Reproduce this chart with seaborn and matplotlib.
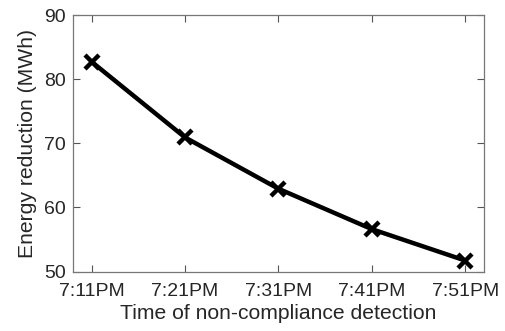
import matplotlib
matplotlib.use("Agg")
import matplotlib.pyplot as plt
import seaborn as sns
import pandas as pd

detection_times = ["7:11PM", "7:21PM", "7:31PM", "7:41PM", "7:51PM"]
energy_reduction = [82.7, 70.9, 62.9, 56.6, 51.7]

sns.set_theme(style="white")
plt.rcParams["font.family"] = ["Liberation Sans", "DejaVu Sans"]

df = pd.DataFrame({"pos": range(len(detection_times)), "energy": energy_reduction})

fig = plt.figure(figsize=(5.06, 3.31), dpi=100)
ax = fig.add_axes([73 / 506, 1 - 271.5 / 331, (484 - 73) / 506, (271.5 - 15) / 331])

sns.lineplot(data=df, x="pos", y="energy", ax=ax, color="black", linewidth=3.2,
             marker="x", markersize=10, markeredgewidth=3.2, markeredgecolor="black")

ax.set_xlim(-0.2, 4.2)
ax.set_ylim(50, 90)
ax.set_xticks(range(len(detection_times)))
ax.set_xticklabels(detection_times)
ax.set_yticks([50, 60, 70, 80, 90])

ax.set_xlabel("Time of non-compliance detection", fontsize=15.2, color="#262626", labelpad=3)
ax.set_ylabel("Energy reduction (MWh)", fontsize=15.2, color="#262626", labelpad=5)

ax.tick_params(axis="both", direction="in", length=5, width=0.8, color="#555555",
               labelsize=14, labelcolor="#262626", top=True, right=True,
               bottom=True, left=True)
ax.tick_params(axis="x", pad=8)
ax.tick_params(axis="y", pad=5)
for sp in ax.spines.values():
    sp.set_visible(True)
    sp.set_color("#777777")
    sp.set_linewidth(0.9)

fig.savefig("out.png", dpi=100, facecolor="white")
